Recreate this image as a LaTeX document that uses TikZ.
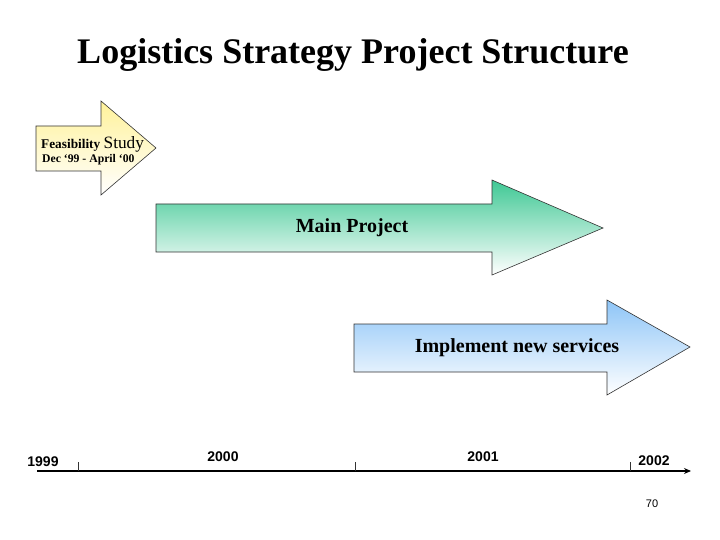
\documentclass[tikz,border=0pt]{standalone}
\usepackage{fontspec}
\setmainfont{Liberation Serif}
\newfontfamily\arialfont{Liberation Sans}
\usetikzlibrary{arrows.meta}
\definecolor{feasy}{HTML}{FFF29A}
\definecolor{maing}{HTML}{3FC894}
\definecolor{implb}{HTML}{8EC5F7}
\tikzset{
  bigarrow/.style={draw=black!80, line width=0.6pt},
  yearlbl/.style={font=\arialfont\bfseries\fontsize{14}{16}\selectfont, inner sep=0pt},
  ticklne/.style={line width=0.5pt, draw=black!80}
}
\begin{document}
\begin{tikzpicture}[x=1pt,y=-1pt]
\useasboundingbox (0,0) rectangle (720,540);
% title
\node[font=\bfseries\fontsize{36}{40}\selectfont, inner sep=0pt] (title) at (353,55) {Logistics Strategy Project Structure};
% feasibility arrow
\shade[bigarrow, top color=feasy, bottom color=white]
  (36,126) -- (101,126) -- (101,101) -- (156,148) -- (101,195) -- (101,171) -- (36,171) -- cycle;
\node[anchor=base west, inner sep=0pt] (feas) at (41,149) {\bfseries\fontsize{13.3}{14}\selectfont Feasibility \mdseries\fontsize{17.3}{18}\selectfont Study};
\node[anchor=base west, inner sep=0pt, font=\bfseries\fontsize{11.7}{13}\selectfont] (feasdate) at (42,163) {Dec ‘99 - April ‘00};
% main project arrow
\shade[bigarrow, top color=maing, bottom color=white]
  (156,204) -- (492,204) -- (492,180) -- (603,228) -- (492,275) -- (492,252) -- (156,252) -- cycle;
\node[font=\bfseries\fontsize{20}{22}\selectfont, inner sep=0pt] (main) at (352,228) {Main Project};
% implement arrow
\shade[bigarrow, top color=implb, bottom color=white]
  (354,324) -- (607,324) -- (607,300) -- (690,347) -- (607,395) -- (607,372) -- (354,372) -- cycle;
\node[font=\bfseries\fontsize{20}{22}\selectfont, inner sep=0pt] (impl) at (517,348) {Implement new services};
% timeline
\coordinate (tlstart) at (37,471);
\coordinate (tlend) at (691,471);
\draw[line width=1.8pt, -{Stealth[length=7pt,width=6pt]}] (tlstart) -- (tlend);
\coordinate (t0a) at (78,462); \coordinate (t0b) at (78,471);
\coordinate (t1a) at (355,462); \coordinate (t1b) at (355,471);
\coordinate (t2a) at (630,462); \coordinate (t2b) at (630,471);
\draw[ticklne] (t0a) -- (t0b);
\draw[ticklne] (t1a) -- (t1b);
\draw[ticklne] (t2a) -- (t2b);
\node[yearlbl] (y1999) at (43,462) {1999};
\node[yearlbl] (y2000) at (223,457) {2000};
\node[yearlbl] (y2001) at (483,457) {2001};
\node[yearlbl] (y2002) at (654,461) {2002};
\node[font=\arialfont\fontsize{11}{13}\selectfont, inner sep=0pt] (pagenum) at (652,504) {70};
\end{tikzpicture}
\end{document}
